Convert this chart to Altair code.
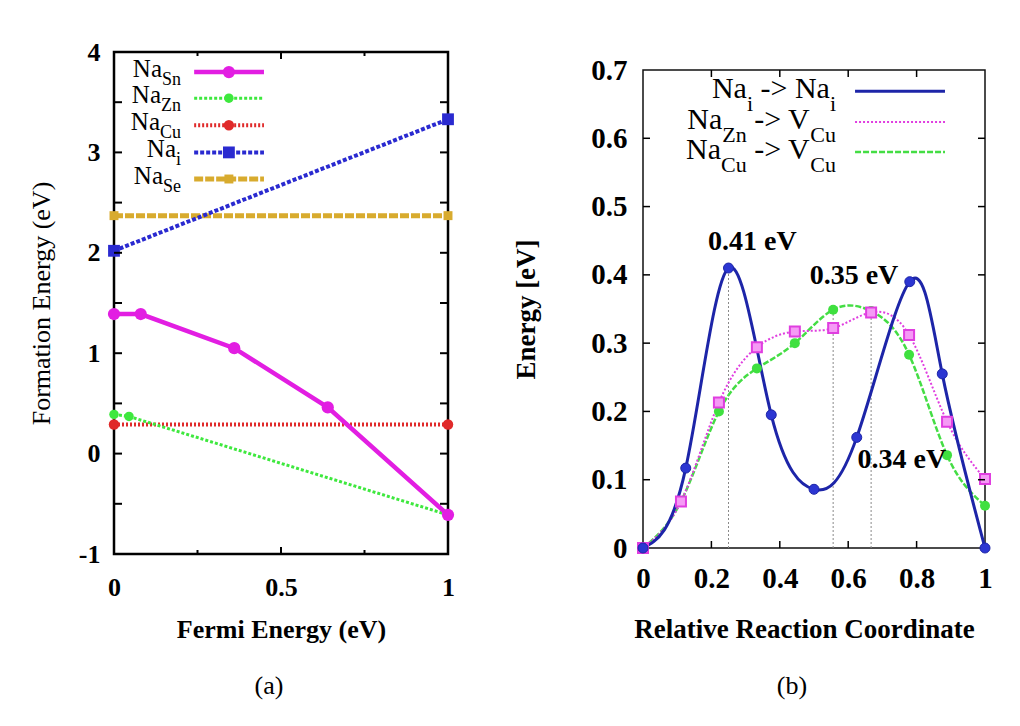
import altair as alt
import pandas as pd

FONT = "Liberation Serif"

# ---------------- Panel (a): formation energies ----------------
fermi_sn = [0.0, 0.08, 0.36, 0.64, 1.0]
form_sn = [1.39, 1.39, 1.05, 0.46, -0.61]
fermi_zn = [0.0, 0.045, 1.0]
form_zn = [0.39, 0.37, -0.61]
fermi_cu = [0.0, 1.0]
form_cu = [0.29, 0.29]
fermi_i = [0.0, 1.0]
form_i = [2.02, 3.33]
fermi_se = [0.0, 1.0]
form_se = [2.37, 2.37]

a_xlabels = [0, 0.5, 1]
a_ylabels = [-1, 0, 1, 2, 3, 4]
a_yticks = [-0.5, 0, 0.5, 1, 1.5, 2, 2.5, 3, 3.5]
a_xticks_major = [0.5]
a_xticks_minor = [0.25, 0.75]
a_legend_subs = ["Sn", "Zn", "Cu", "i", "Se"]
a_legend_rows = [3.80, 3.54, 3.27, 3.00, 2.735]

# ---------------- Panel (b): NEB barriers ----------------
rc_i = [0.0, 0.125, 0.25, 0.375, 0.5, 0.625, 0.78, 0.875, 1.0]
e_i = [0.0, 0.117, 0.41, 0.195, 0.086, 0.162, 0.39, 0.255, 0.0]
rc_v = [0.0, 0.111, 0.222, 0.333, 0.444, 0.556, 0.667, 0.778, 0.889, 1.0]
e_zn = [0.0, 0.068, 0.213, 0.294, 0.317, 0.322, 0.345, 0.312, 0.185, 0.101]
e_cu = [0.0, 0.068, 0.200, 0.263, 0.300, 0.349, 0.347, 0.283, 0.136, 0.062]
barrier_x = [0.25, 0.556, 0.667]
barrier_top = [0.41, 0.349, 0.345]
barrier_text = ["0.41 eV", "0.35 eV", "0.34 eV"]
barrier_text_x = [0.32, 0.617, 0.757]
barrier_text_y = [0.448, 0.398, 0.129]

b_xlabels = [0, 0.2, 0.4, 0.6, 0.8, 1]
b_ylabels = [0, 0.1, 0.2, 0.3, 0.4, 0.5, 0.6, 0.7]
b_yticks = [0.1, 0.2, 0.3, 0.4, 0.5, 0.6]
b_xticks = [0.2, 0.4, 0.6, 0.8]
b_legend_rows = [0.669, 0.624, 0.58]

# ---------------- layout ----------------
LW, LH = 334, 502
RW, RH = 342, 478

xs_a = alt.Scale(domain=[0, 1], nice=False, zero=False)
ys_a = alt.Scale(domain=[-1, 4], nice=False, zero=False)
xs_b = alt.Scale(domain=[0, 1], nice=False, zero=False)
ys_b = alt.Scale(domain=[0, 0.7], nice=False, zero=False)

# Times metrics for legend layout
CW = {"N": .722, "a": .444, "i": .278, "Z": .611, "n": .5, "C": .667, "u": .5,
      "V": .722, " ": .25, "-": .333, ">": .564, "S": .556, "e": .444}


def tw(s, size):
    return sum(CW.get(c, .5) for c in s) * size


def X(xsc, axis=None):
    return alt.X("x:Q", scale=xsc, axis=axis) if axis is not None else alt.X("x:Q", scale=xsc)


def Y(ysc, axis=None):
    return alt.Y("y:Q", scale=ysc, axis=axis) if axis is not None else alt.Y("y:Q", scale=ysc)


def line_layer(xs, ys, xsc, ysc, color, width, dash=None, interp="linear",
               xaxis=None, yaxis=None):
    kw = dict(color=color, strokeWidth=width, interpolate=interp)
    if dash:
        kw["strokeDash"] = dash
    df = pd.DataFrame({"x": xs, "y": ys})
    return alt.Chart(df).mark_line(**kw).encode(x=X(xsc, xaxis), y=Y(ysc, yaxis))


def point_layer(xs, ys, xsc, ysc, shape, size, fill, stroke=None, sw=0):
    kw = dict(shape=shape, size=size, filled=True, fill=fill, opacity=1)
    if stroke:
        kw.update(stroke=stroke, strokeWidth=sw)
    df = pd.DataFrame({"x": xs, "y": ys})
    return alt.Chart(df).mark_point(**kw).encode(x=X(xsc), y=Y(ysc))


def yticks_layer(vals, ysc, x1, x2, width):
    df = pd.DataFrame({"y": vals})
    return alt.Chart(df).mark_rule(color="black", strokeWidth=width).encode(
        y=Y(ysc), x=alt.value(x1), x2=alt.value(x2))


def xticks_layer(vals, xsc, y1, y2, width):
    df = pd.DataFrame({"x": vals})
    return alt.Chart(df).mark_rule(color="black", strokeWidth=width).encode(
        x=X(xsc), y=alt.value(y1), y2=alt.value(y2))


def text_layer(xs, ys, texts, xsc, ysc, size, align, baseline, dy=0, weight="normal"):
    df = pd.DataFrame({"x": xs, "y": ys, "t": texts})
    return alt.Chart(df).mark_text(font=FONT, fontSize=size, align=align,
                                   baseline=baseline, dy=dy, fontWeight=weight,
                                   color="black").encode(x=X(xsc), y=Y(ysc), text="t:N")


def label_layers(rows_parts, row_ys, right_px, W, xsc, ysc, fmain, fsub, dmain, dsub):
    layers = []
    for parts, yv in zip(rows_parts, row_ys):
        total = sum(tw(t, fsub if sub else fmain) for t, sub in parts)
        px = right_px - total
        for t, sub in parts:
            size = fsub if sub else fmain
            w = tw(t, size)
            shown = t.lstrip(" ")
            off = tw(t[:len(t) - len(shown)], fmain)
            if sub:
                layers.append(text_layer([(px + off) / W], [yv], [shown], xsc, ysc,
                                         fsub, "left", "top", dy=dsub))
            else:
                layers.append(text_layer([(px + off) / W], [yv], [shown], xsc, ysc,
                                         fmain, "left", "middle", dy=dmain))
            px += w
    return layers


# ---------------- Panel (a) ----------------
a_styles = [
    # (xs, ys, color, width, dash, shape, size)
    (fermi_se, form_se, "#d8ab2e", 5, [9, 2], "square", 80),
    (fermi_cu, form_cu, "#e02a2a", 4, [2, 2], "circle", 110),
    (fermi_zn, form_zn, "#3ee83e", 3, [3, 2], "circle", 90),
    (fermi_i, form_i, "#2a2ad0", 4, [4, 2], "square", 140),
    (fermi_sn, form_sn, "#e21ee2", 4.5, None, "circle", 150),
]

a_xaxis = alt.Axis(values=a_xlabels, labelExpr="'' + datum.value", title="Fermi Energy (eV)",
                   labelFontSize=26, labelPadding=20,
                   titleFontSize=26, titlePadding=16)
a_yaxis = alt.Axis(values=a_ylabels, labelExpr="'' + datum.value", title="Formation Energy (eV)",
                   labelFontSize=26, labelPadding=14,
                   titleFontSize=26, titleFontWeight="normal", titlePadding=24)

a_layers = []
for i, (xs, ys, col, w, dash, shape, size) in enumerate(a_styles):
    if i == 0:
        a_layers.append(line_layer(xs, ys, xs_a, ys_a, col, w, dash, xaxis=a_xaxis, yaxis=a_yaxis))
    else:
        a_layers.append(line_layer(xs, ys, xs_a, ys_a, col, w, dash))
for xs, ys, col, w, dash, shape, size in a_styles:
    a_layers.append(point_layer(xs, ys, xs_a, ys_a, shape, size, col))

# inward ticks (mirrored)
a_layers += [
    yticks_layer(a_yticks, ys_a, 0, 8, 2),
    yticks_layer(a_yticks, ys_a, LW, LW - 8, 2),
    xticks_layer(a_xticks_major, xs_a, LH, LH - 7, 2),
    xticks_layer(a_xticks_minor, xs_a, LH, LH - 4, 2),
    xticks_layer(a_xticks_major, xs_a, 0, 7, 2),
    xticks_layer(a_xticks_minor, xs_a, 0, 4, 2),
]

# legend (a)
a_leg_order = [4, 2, 1, 3, 0]  # Sn, Zn, Cu, i, Se
for row_y, idx in zip(a_legend_rows, a_leg_order):
    xs, ys, col, w, dash, shape, size = a_styles[idx]
    a_layers.append(line_layer([0.24, 0.449], [row_y, row_y], xs_a, ys_a, col, w, dash))
    a_layers.append(point_layer([0.344], [row_y], xs_a, ys_a, shape, size, col))
a_parts = [[("Na", False), (s, True)] for s in a_legend_subs]
a_layers += label_layers(a_parts, a_legend_rows, 67, LW, xs_a, ys_a, 25, 18, -3, -1)

cap_a = alt.Chart(pd.DataFrame({"t": ["(a)"]})).mark_text(
    font=FONT, fontSize=26, color="black", align="center", baseline="middle").encode(
    text="t:N", x=alt.value(155), y=alt.value(634))
a_layers.append(cap_a)

left = alt.layer(*a_layers).properties(
    width=LW, height=LH,
    view=alt.ViewBackground(stroke="black", strokeWidth=2.5))

# ---------------- Panel (b) ----------------
BLUE_L, BLUE_P = "#1d25a8", "#2c36d2"
MAG_L, MAG_F = "#e03ee0", "#f59af5"
GRN_L, GRN_P = "#44dd44", "#3fe03f"

b_xaxis = alt.Axis(values=b_xlabels, format="~g", title="Relative Reaction Coordinate",
                   labelFontSize=29, labelPadding=16,
                   titleFontSize=27, titlePadding=23, titleX=161)
b_yaxis = alt.Axis(values=b_ylabels, format="~g", title="Energy [eV]",
                   labelFontSize=29, labelPadding=16,
                   titleFontSize=27, titlePadding=50)

b_layers = [
    alt.Chart(pd.DataFrame({"x": barrier_x, "y": [0, 0, 0], "y2": barrier_top})).mark_rule(
        color="#8a8a8a", strokeWidth=1, strokeDash=[2, 2]).encode(
        x=X(xs_b, b_xaxis), y=Y(ys_b, b_yaxis), y2="y2:Q"),
    line_layer(rc_v, e_cu, xs_b, ys_b, GRN_L, 2.5, [6, 2], "natural"),
    line_layer(rc_v, e_zn, xs_b, ys_b, MAG_L, 2, [2, 2], "natural"),
    line_layer(rc_i, e_i, xs_b, ys_b, BLUE_L, 3, None, "natural"),
    point_layer(rc_v, e_cu, xs_b, ys_b, "circle", 100, GRN_P),
    point_layer(rc_v, e_zn, xs_b, ys_b, "square", 100, MAG_F, MAG_L, 2),
    point_layer(rc_i, e_i, xs_b, ys_b, "circle", 100, BLUE_P, BLUE_L, 1),
    yticks_layer(b_yticks, ys_b, 0, 7, 1.5),
    yticks_layer(b_yticks, ys_b, RW, RW - 7, 1.5),
    xticks_layer(b_xticks, xs_b, RH, RH - 7, 1.5),
    xticks_layer(b_xticks, xs_b, 0, 7, 1.5),
    text_layer(barrier_text_x, barrier_text_y, barrier_text, xs_b, ys_b, 28,
               "center", "middle", weight="bold"),
]

# legend (b)
b_leg_styles = [(BLUE_L, 3, None), (MAG_L, 2, [2, 2]), (GRN_L, 2.5, [6, 2])]
for row_y, (col, w, dash) in zip(b_legend_rows, b_leg_styles):
    b_layers.append(line_layer([0.62, 0.883], [row_y, row_y], xs_b, ys_b, col, w, dash))
b_parts = [
    [("Na", False), ("i", True), (" -> Na", False), ("i", True)],
    [("Na", False), ("Zn", True), (" -> V", False), ("Cu", True)],
    [("Na", False), ("Cu", True), (" -> V", False), ("Cu", True)],
]
b_layers += label_layers(b_parts, b_legend_rows, 193, RW, xs_b, ys_b, 30, 22, -2, 3)

cap_b = alt.Chart(pd.DataFrame({"t": ["(b)"]})).mark_text(
    font=FONT, fontSize=26, color="black", align="center", baseline="middle").encode(
    text="t:N", x=alt.value(149), y=alt.value(616))
b_layers.append(cap_b)

right = alt.layer(*b_layers).properties(
    width=RW, height=RH,
    view=alt.ViewBackground(stroke="#111111", strokeWidth=1.5))

# invisible spacer that lowers panel (b) relative to panel (a)
spacer = alt.Chart(pd.DataFrame({"t": [""]})).mark_text().encode(text="t:N").properties(
    width=RW, height=18, view=alt.ViewBackground(stroke="transparent"))

right_col = alt.vconcat(spacer, right, spacing=0, bounds="flush")

chart = alt.hconcat(left, right_col, spacing=52).properties(
    padding={"left": 19, "top": 29, "right": 5, "bottom": 5},
    background="white",
).configure_axis(
    domain=False, ticks=False, tickSize=0, grid=False, labelFlush=False,
    labelFont=FONT, labelFontWeight="bold", labelColor="black",
    titleFont=FONT, titleFontWeight="bold", titleColor="black",
)

chart.save("out.html", embed_options={"renderer": "svg", "actions": False})
